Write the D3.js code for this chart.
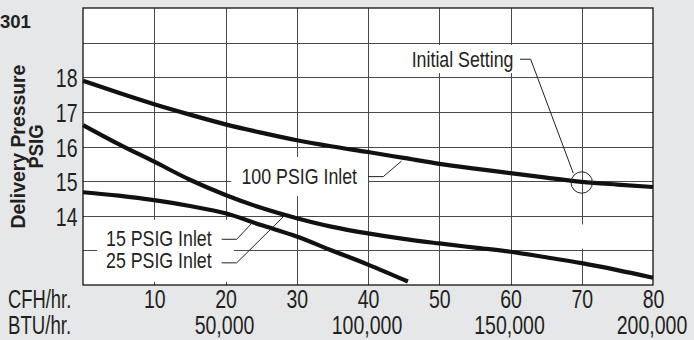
<!DOCTYPE html>
<html><head><meta charset="utf-8">
<script src="https://cdn.jsdelivr.net/npm/d3@7"></script>
<style>
html,body{margin:0;padding:0;background:#e6e7e8;}
svg{display:block;font-family:"Liberation Sans",Arial,Helvetica,sans-serif;}
</style></head><body>
<svg id="c" width="694" height="340"></svg>
<script>
// ---- data ----
const cfh100 = [0,5,10,15,20,25,30,35,40,45,50,55,60,65,70,75,80];
const psig100 = [17.90,17.55,17.22,16.92,16.64,16.40,16.18,16.00,15.84,15.67,15.50,15.36,15.23,15.10,14.98,14.90,14.83];
const cfh25 = [0,5,10,15,20,25,30,35,40,45,50,55,60,65,70,75,80];
const psig25 = [16.62,16.07,15.56,15.04,14.60,14.23,13.93,13.68,13.49,13.33,13.20,13.08,12.96,12.80,12.63,12.43,12.21];
const cfh15 = [0,5,10,15,20,25,30,35,40,45.6];
const psig15 = [14.68,14.58,14.45,14.28,14.07,13.73,13.40,12.99,12.59,12.10];

const cfhTicks = [10,20,30,40,50,60,70,80];
const btuTicks = [50000,100000,150000,200000];
const btuPerCfh = 2500;
const psigTicks = [14,15,16,17,18];
const xGrid = [10,20,30,40,50,60,70];
const yGrid = [13,14,15,16,17,18,19];

const seriesNames = ["100 PSIG Inlet","25 PSIG Inlet","15 PSIG Inlet"];
// annotation anchors in data units (CFH, PSIG)
const labelAnchors = [
  {text:"100 PSIG Inlet", cfh:38.46, psig:14.91, anchor:"end",
   leader:[[40.0,15.13],[42.15,15.13],[44.7,15.58]]},
  {text:"15 PSIG Inlet", cfh:3.23, psig:13.13, anchor:"start",
   leader:[[19.47,13.32],[21.57,13.32],[23.68,13.78]]},
  {text:"25 PSIG Inlet", cfh:3.23, psig:12.48, anchor:"start",
   leader:[[19.47,12.64],[21.57,12.64],[28.11,13.97]]},
  {text:"Initial Setting", cfh:46.13, psig:18.29, anchor:"start",
   leader:[[61.33,18.52],[62.83,18.52],[68.81,15.23]]}
];
const knockouts = [
  {x0:20.8, x1:40.0, y0:15.70, y1:14.57},
  {x0:2.0, x1:21.2, y0:13.88, y1:12.09},
  {x0:45.3, x1:61.0, y0:18.93, y1:18.12},
  {x0:69.5, x1:70.5, y0:13.75, y1:13.05}
];
const initialSetting = {cfh:70, psig:14.96};

// ---- layout ----
const ink = "#231f20";
const svg = d3.select("#c");
const L = 83, R = 653, T = 8, B = 285;
const x = d3.scaleLinear().domain([0,80]).range([L,R]);
const y = d3.scaleLinear().domain([12,20]).range([B,T]);

svg.append("rect").attr("x",L).attr("y",T).attr("width",R-L).attr("height",B-T).attr("fill","#fff");

// grid
const grid = svg.append("g").attr("stroke","#4a4a4a").attr("stroke-width",1);
grid.selectAll(".vx").data(xGrid).join("line")
  .attr("x1",d=>Math.round(x(d))+0.5).attr("x2",d=>Math.round(x(d))+0.5)
  .attr("y1",T).attr("y2",B);
grid.selectAll(".hy").data(yGrid).join("line")
  .attr("y1",d=>Math.round(y(d))+0.5).attr("y2",d=>Math.round(y(d))+0.5)
  .attr("x1",L).attr("x2",R);

// knockouts behind labels
svg.append("g").selectAll("rect").data(knockouts).join("rect")
  .attr("x",d=>x(d.x0)).attr("width",d=>x(d.x1)-x(d.x0))
  .attr("y",d=>y(d.y0)).attr("height",d=>y(d.y1)-y(d.y0))
  .attr("fill","#fff");

// curves
const line = d3.line().x(d=>x(d[0])).y(d=>y(d[1])).curve(d3.curveMonotoneX);
const series = [
  d3.zip(cfh100, psig100),
  d3.zip(cfh25, psig25),
  d3.zip(cfh15, psig15)
];
svg.append("g").selectAll("path").data(series).join("path")
  .attr("d",line).attr("fill","none").attr("stroke","#111").attr("stroke-width",4.2);

// leaders
const lline = d3.line().x(d=>x(d[0])).y(d=>y(d[1]));
svg.append("g").selectAll("path").data(labelAnchors).join("path")
  .attr("d",d=>lline(d.leader)).attr("fill","none").attr("stroke",ink).attr("stroke-width",1);

// circle
svg.append("circle").attr("cx",x(initialSetting.cfh)).attr("cy",y(initialSetting.psig))
  .attr("r",10.7).attr("fill","none").attr("stroke",ink).attr("stroke-width",1);

function ctext(parent, str, px, py, o){
  o = Object.assign({anchor:"start", size:22.5, sx:0.79, weight:"normal"}, o||{});
  return parent.append("text")
    .attr("transform",`translate(${px},${py}) scale(${o.sx},1)`)
    .attr("text-anchor",o.anchor).attr("font-size",o.size)
    .attr("font-weight",o.weight).attr("fill",ink).text(str);
}

// curve labels
const lab = svg.append("g");
labelAnchors.forEach(d=>ctext(lab, d.text, x(d.cfh), y(d.psig), {anchor:d.anchor}));

// border
svg.append("rect").attr("x",L).attr("y",T).attr("width",R-L).attr("height",B-T)
  .attr("fill","none").attr("stroke","#111").attr("stroke-width",1.3);

// axes (labels only)
const tickSX = 0.78, tickSize = 25;
function styleAxis(g, anchor){
  g.select(".domain").remove();
  g.selectAll(".tick line").remove();
  g.selectAll(".tick text")
    .attr("x",0).attr("y",0).attr("dy",null)
    .attr("text-anchor",anchor)
    .attr("transform",`scale(${tickSX},1)`)
    .attr("font-size",tickSize).attr("font-family",null).attr("fill",ink);
}
const ax1 = svg.append("g").attr("transform","translate(0,308)")
  .call(d3.axisBottom(x).tickValues(cfhTicks).tickSize(0).tickFormat(d3.format("d")));
styleAxis(ax1,"middle");
const xb = d3.scaleLinear().domain([0,80*btuPerCfh]).range([L,R]);
const ax2 = svg.append("g").attr("transform","translate(-1.5,334)")
  .call(d3.axisBottom(xb).tickValues(btuTicks).tickSize(0).tickFormat(d3.format(",")));
styleAxis(ax2,"middle");
const ay = svg.append("g").attr("transform","translate(77.5,9.5)")
  .call(d3.axisLeft(y).tickValues(psigTicks).tickSize(0).tickFormat(d3.format("d")));
styleAxis(ay,"end");

ctext(svg, "CFH/hr.", 8, 308, {size:25, sx:0.735});
ctext(svg, "BTU/hr.", 8, 334, {size:25, sx:0.745});

// y title
const yt = svg.append("g");
yt.append("text").attr("transform","translate(25,146.5) rotate(-90) scale(0.97,1)")
  .attr("text-anchor","middle").attr("font-size",20).attr("font-weight","bold").attr("fill",ink)
  .text("Delivery Pressure");
yt.append("text").attr("transform","translate(43,146.5) rotate(-90) scale(0.92,1)")
  .attr("text-anchor","middle").attr("font-size",20).attr("font-weight","bold").attr("fill",ink)
  .text("PSIG");

// figure id
svg.append("text").attr("x",0).attr("y",28.3).attr("font-size",18.5).attr("font-weight","bold")
  .attr("fill",ink).text("301");
</script>
</body></html>
